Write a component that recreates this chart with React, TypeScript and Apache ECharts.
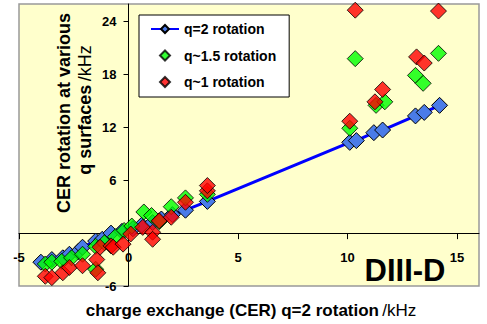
import React, { useEffect, useRef } from "react";
import * as echarts from "echarts";

// CER q=2 rotation (x) vs rotation at various q surfaces (y), kHz
const q2X = [-4.0, -3.5, -3.0, -2.7, -2.3, -2.1, -1.5, -1.2, -0.8, -0.3, 0.2, 0.6, 1.1, 1.5, 2.0, 2.6, 3.6, 10.1, 10.4, 11.2, 11.6, 13.1, 13.5, 14.2];
const q2Y = [-3.3, -3.0, -2.8, -2.4, -2.1, -1.6, -0.9, -0.7, 0.0, 0.2, 0.5, 0.9, 1.2, 1.6, 2.1, 2.6, 3.6, 10.3, 10.5, 11.4, 11.7, 13.3, 13.7, 14.5];

const q15X = [-3.8, -3.5, -3.05, -2.6, -2.1, -1.5, -1.5, -1.1, -0.6, -0.2, 0.15, 0.7, 1.05, 1.4, 1.95, 2.6, 3.6, 10.1, 10.35, 11.3, 11.7, 13.1, 13.45, 14.15];
const q15Y = [-3.5, -3.3, -3.2, -2.8, -2.4, -1.5, -4.1, -1.1, -0.4, 0.3, 0.8, 2.4, 2.0, 1.3, 3.0, 4.0, 4.4, 11.9, 19.8, 14.5, 14.9, 17.9, 17.0, 20.4];

const q1X = [-3.8, -3.5, -3.0, -2.7, -2.1, -1.45, -1.4, -1.3, -0.8, -0.7, -0.25, 0.1, 0.65, 1.1, 1.1, 1.4, 1.95, 2.6, 3.6, 3.6, 10.1, 10.35, 11.25, 11.6, 13.15, 13.5, 14.15];
const q1Y = [-4.9, -5.05, -4.5, -3.9, -3.7, -3.0, -4.5, -1.6, -1.45, -1.6, -1.25, -0.1, 0.65, 0.1, -0.7, 1.4, 1.8, 3.5, 4.8, 5.4, 12.7, 25.3, 14.9, 16.3, 20.0, 19.3, 25.2];

const seriesNames = ["q=2 rotation", "q~1.5 rotation", "q~1 rotation"];
const xTicks = [-5, 0, 5, 10, 15];
const yTicks = [-6, 0, 6, 12, 18, 24];
const xRange = [-5, 16];
const yRange = [-6, 26];

const FONT = "'Liberation Sans', Arial, sans-serif";
const DIAMOND = "path://M0,-1L1,0L0,1L-1,0Z";

const pairs = (xs: number[], ys: number[]) => xs.map((x, i) => [x, ys[i]]);

export default function App() {
  const ref = useRef<HTMLDivElement>(null);
  useEffect(() => {
    if (!ref.current) return;
    const chart = echarts.init(ref.current, undefined, { renderer: "svg" });
    const G = { left: 19, top: 4, right: 8, bottom: 38 };
    const gw = 487 - G.left - G.right;
    const gh = 324 - G.top - G.bottom;
    // move axes so they cross at zero (labels move with them)
    const xAxisOffset = -(gh * (0 - yRange[0])) / (yRange[1] - yRange[0]);
    const yAxisOffset = -(gw * (0 - xRange[0])) / (xRange[1] - xRange[0]);
    const markerStyle = (fill: string) => ({ color: fill, borderColor: "#000", borderWidth: 1 });
    chart.setOption({
      animation: false,
      backgroundColor: "#fff",
      textStyle: { fontFamily: FONT },
      grid: {
        ...G,
        show: true,
        backgroundColor: "#FFFFCC",
        borderColor: "#999",
        borderWidth: 1.5,
      },
      xAxis: {
        type: "value",
        position: "bottom",
        offset: xAxisOffset,
        min: xRange[0],
        max: xRange[1],
        interval: 5,
        splitLine: { show: false },
        axisLine: { onZero: false, lineStyle: { color: "#000", width: 1 } },
        axisTick: { show: true, length: 6, customValues: xTicks, lineStyle: { color: "#000" } },
        axisLabel: {
          customValues: xTicks,
          margin: 18,
          fontSize: 13,
          fontWeight: "bold",
          color: "#000",
          fontFamily: FONT,
        },
      },
      yAxis: {
        type: "value",
        position: "left",
        offset: yAxisOffset,
        min: yRange[0],
        max: yRange[1],
        interval: 6,
        splitLine: { show: false },
        axisLine: { onZero: false, lineStyle: { color: "#000", width: 1 } },
        axisTick: { show: true, length: 5, customValues: yTicks, lineStyle: { color: "#000" } },
        axisLabel: {
          customValues: yTicks,
          margin: 12,
          fontSize: 13,
          fontWeight: "bold",
          color: "#000",
          fontFamily: FONT,
        },
      },
      legend: {
        orient: "vertical",
        left: 139,
        top: 15,
        padding: [6, 13, 7, 11],
        itemGap: 10.5,
        itemWidth: 28,
        itemHeight: 10,
        symbolKeepAspect: true,
        backgroundColor: "#fff",
        borderColor: "#000",
        borderWidth: 1,
        borderRadius: 0,
        textStyle: { fontSize: 14, fontWeight: "bold", color: "#000", fontFamily: FONT, lineHeight: 16 },
        data: [
          { name: seriesNames[0] },
          { name: seriesNames[1], icon: DIAMOND },
          { name: seriesNames[2], icon: DIAMOND },
        ],
      },
      series: [
        {
          name: seriesNames[0],
          type: "line",
          data: pairs(q2X, q2Y),
          symbol: "diamond",
          symbolSize: 16,
          showAllSymbol: true,
          lineStyle: { color: "#0000FF", width: 3 },
          itemStyle: markerStyle("#4A7BE8"),
          z: 2,
        },
        {
          name: seriesNames[1],
          type: "scatter",
          data: pairs(q15X, q15Y),
          symbol: "diamond",
          symbolSize: 16,
          itemStyle: markerStyle("#00FF00"),
          z: 3,
        },
        {
          name: seriesNames[2],
          type: "scatter",
          data: pairs(q1X, q1Y),
          symbol: "diamond",
          symbolSize: 16,
          itemStyle: markerStyle("#FF0000"),
          z: 4,
        },
      ],
      graphic: [
        {
          type: "text",
          x: 251,
          y: 310,
          style: {
            text: "{b|charge exchange (CER) q=2 rotation} {n|/kHz}",
            align: "center",
            verticalAlign: "middle",
            fill: "#000",
            rich: {
              b: { fontSize: 17, fontWeight: "bold", fontFamily: FONT, fill: "#000" },
              n: { fontSize: 17, fontWeight: "normal", fontFamily: FONT, fill: "#000" },
            },
          },
        },
        {
          type: "text",
          x: 64,
          y: 113,
          rotation: Math.PI / 2,
          style: {
            text: "CER rotation at various",
            align: "center",
            verticalAlign: "middle",
            fontSize: 18,
            fontWeight: "bold",
            fontFamily: FONT,
            fill: "#000",
          },
        },
        {
          type: "text",
          x: 85,
          y: 110,
          rotation: Math.PI / 2,
          style: {
            text: "{b|q surfaces} {n|/kHz}",
            align: "center",
            verticalAlign: "middle",
            fill: "#000",
            rich: {
              b: { fontSize: 18, fontWeight: "bold", fontFamily: FONT, fill: "#000" },
              n: { fontSize: 18, fontWeight: "normal", fontFamily: FONT, fill: "#000" },
            },
          },
        },
        {
          type: "text",
          x: 405,
          y: 270,
          z: 100,
          style: {
            text: "DIII-D",
            align: "center",
            verticalAlign: "middle",
            fontSize: 31,
            fontWeight: "bold",
            fontFamily: FONT,
            fill: "#000",
          },
        },
      ],
    });
    return () => chart.dispose();
  }, []);
  return (
    <div
      ref={ref}
      style={{ position: "fixed", left: 0, top: 0, width: 487, height: 324 }}
    />
  );
}
